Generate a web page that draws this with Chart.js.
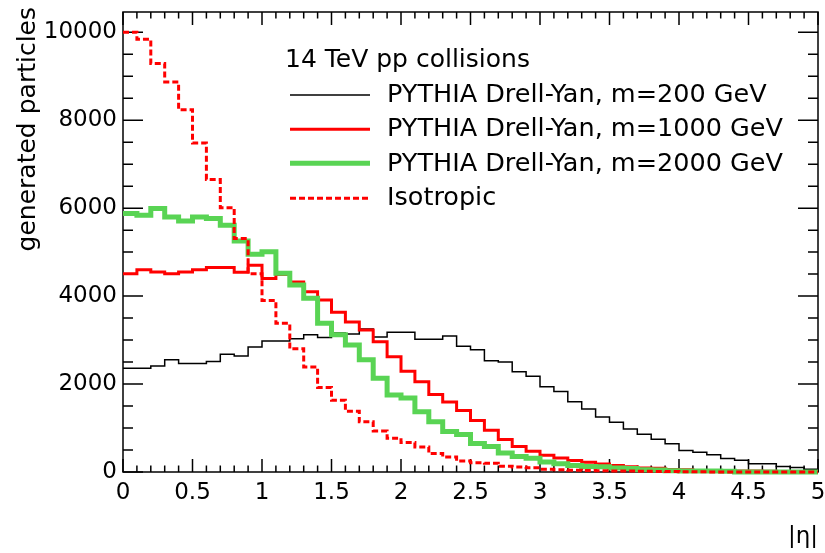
<!DOCTYPE html>
<html>
<head>
<meta charset="utf-8">
<script src="https://cdn.jsdelivr.net/npm/chart.js@4"></script>
<style>
html,body{margin:0;padding:0;background:#ffffff;}
#wrap{width:825px;height:553px;}
</style>
</head>
<body>
<div id="wrap"><canvas id="c" width="825" height="553"></canvas></div>
<script>
// ---- data (|eta| histograms, 50 bins of width 0.1 from 0 to 5) ----
const etaMin = 0;
const etaMax = 5;
const nBins = 50;

const dyM200 = [2360, 2360, 2410, 2550, 2470, 2470, 2510, 2680, 2640, 2840,
                2980, 2980, 3030, 3120, 3060, 3160, 3140, 3250, 3070, 3180,
                3180, 3020, 3020, 3090, 2860, 2780, 2530, 2500, 2280, 2180,
                1940, 1830, 1600, 1430, 1250, 1130, 975, 860, 745, 640,
                490, 450, 390, 305, 270, 185, 185, 125, 100, 60];

const dyM1000 = [4510, 4600, 4550, 4510, 4550, 4600, 4650, 4650, 4540, 4700,
                 4400, 4490, 4320, 4100, 3910, 3630, 3410, 3230, 2960, 2620,
                 2290, 2050, 1760, 1590, 1400, 1170, 950, 740, 580, 470,
                 380, 320, 260, 220, 180, 150, 120, 90, 85, 55,
                 50, 35, 30, 25, 20, 20, 15, 12, 10, 10];

const dyM2000 = [5880, 5840, 5990, 5800, 5710, 5800, 5765, 5610, 5250, 4950,
                 5010, 4520, 4250, 3950, 3380, 3120, 2890, 2550, 2130, 1750,
                 1680, 1370, 1140, 920, 850, 650, 580, 430, 350, 310,
                 230, 190, 150, 125, 120, 90, 80, 50, 45, 30,
                 25, 20, 20, 15, 0, 0, 0, 0, 0, 0];

const isotropic = [10000, 9840, 9290, 8870, 8240, 7480, 6650, 6010, 5310, 4510,
                   3900, 3380, 2800, 2390, 1920, 1630, 1380, 1140, 930, 770,
                   670, 570, 420, 340, 250, 210, 200, 130, 115, 95,
                   60, 50, 40, 35, 30, 25, 20, 15, 12, 10,
                   8, 5, 0, 0, 0, 0, 0, 0, 0, 0];

const xTickValues = [0, 0.5, 1, 1.5, 2, 2.5, 3, 3.5, 4, 4.5, 5];
const yTickValues = [0, 2000, 4000, 6000, 8000, 10000];
const yMax = 10460;

const yTitle = 'generated particles';
const xTitle = '|η|';
const legendHeader = '14 TeV pp collisions';
const seriesLabels = ['PYTHIA Drell-Yan, m=200 GeV', 'PYTHIA Drell-Yan, m=1000 GeV',
                      'PYTHIA Drell-Yan, m=2000 GeV', 'Isotropic'];

// ---- build step-histogram point lists ----
function histPoints(vals) {
  const w = (etaMax - etaMin) / nBins;
  const pts = vals.map((v, i) => ({x: etaMin + i * w, y: v}));
  pts.push({x: etaMax, y: vals[vals.length - 1]});
  return pts;
}

const FONT = '"DejaVu Sans", "Liberation Sans", sans-serif';

const datasets = [
  {label: seriesLabels[0], data: histPoints(dyM200), borderColor: '#000000', borderWidth: 1.5, order: 3},
  {label: seriesLabels[1], data: histPoints(dyM1000), borderColor: '#ff0000', borderWidth: 3, order: 2},
  {label: seriesLabels[2], data: histPoints(dyM2000), borderColor: 'rgb(89,212,84)', borderWidth: 5, order: 1},
  {label: seriesLabels[3], data: histPoints(isotropic), borderColor: '#ff0000', borderWidth: 3, borderDash: [6, 3], order: 0}
].map(d => Object.assign({
  stepped: 'before', pointRadius: 0, pointHoverRadius: 0, fill: false, tension: 0,
  borderCapStyle: 'butt', borderJoinStyle: 'miter', clip: 4
}, d));

// ---- frame with inward ticks (ROOT style) ----
const framePlugin = {
  id: 'frame',
  beforeDatasetsDraw(chart) {
    const {ctx, chartArea: a, scales: {x, y}} = chart;
    ctx.save();
    ctx.strokeStyle = '#000';
    ctx.lineWidth = 1.5;
    ctx.strokeRect(a.left, a.top, a.right - a.left, a.bottom - a.top);
    ctx.beginPath();
    for (let i = 0; i < xTickValues.length; i++) {
      const v = xTickValues[i];
      const px = x.getPixelForValue(v);
      ctx.moveTo(px, a.bottom); ctx.lineTo(px, a.bottom - 13);
      ctx.moveTo(px, a.top); ctx.lineTo(px, a.top + 13);
      if (i < xTickValues.length - 1) {
        const step = (xTickValues[i + 1] - v) / 5;
        for (let k = 1; k < 5; k++) {
          const mx = x.getPixelForValue(v + k * step);
          ctx.moveTo(mx, a.bottom); ctx.lineTo(mx, a.bottom - 6.5);
          ctx.moveTo(mx, a.top); ctx.lineTo(mx, a.top + 6.5);
        }
      }
    }
    const yStep = (yTickValues[1] - yTickValues[0]) / 4;
    for (let v = yTickValues[0]; v <= y.max; v += yStep) {
      const py = y.getPixelForValue(v);
      const len = yTickValues.includes(v) ? 20 : 10;
      ctx.moveTo(a.left, py); ctx.lineTo(a.left + len, py);
      ctx.moveTo(a.right, py); ctx.lineTo(a.right - len, py);
    }
    ctx.stroke();
    ctx.restore();
  }
};

// ---- legend and y title drawn as canvas text ----
const legendPlugin = {
  id: 'insideLegend',
  afterDatasetsDraw(chart) {
    const {ctx, chartArea: a} = chart;
    ctx.save();
    ctx.fillStyle = '#000';
    ctx.textBaseline = 'alphabetic';
    ctx.textAlign = 'left';
    ctx.font = '25px ' + FONT;
    ctx.fillText(legendHeader, 285, 66.5);
    ctx.font = '25.5px ' + FONT;
    const lineY = [95, 129.3, 163.3, 198.3];
    const baseY = [101.7, 136, 170.6, 205];
    chart.data.datasets.forEach((ds, i) => {
      ctx.beginPath();
      ctx.strokeStyle = ds.borderColor;
      ctx.lineWidth = ds.borderWidth;
      ctx.setLineDash(ds.borderDash || []);
      ctx.lineCap = 'butt';
      ctx.moveTo(290, lineY[i]);
      ctx.lineTo(370, lineY[i]);
      ctx.stroke();
      ctx.setLineDash([]);
      ctx.fillText(ds.label, 387, baseY[i]);
    });
    // y axis title, right-aligned at the top like ROOT
    ctx.translate(28, 7);
    ctx.rotate(-Math.PI / 2);
    ctx.font = '25px ' + FONT;
    ctx.textAlign = 'right';
    ctx.textBaseline = 'middle';
    ctx.fillText(yTitle, 0, 0);
    ctx.restore();
  }
};

new Chart(document.getElementById('c'), {
  type: 'line',
  data: {datasets},
  options: {
    responsive: false,
    animation: false,
    devicePixelRatio: 1,
    layout: {padding: {top: 12, right: 7, left: 0, bottom: 0}},
    plugins: {legend: {display: false}, tooltip: {enabled: false}},
    scales: {
      x: {
        type: 'linear', min: etaMin, max: etaMax,
        afterBuildTicks: s => { s.ticks = xTickValues.map(v => ({value: v})); },
        afterFit: s => { s.height = 81; s.paddingLeft = 0; s.paddingRight = 0; },
        grid: {display: false, drawTicks: false},
        border: {display: false},
        ticks: {padding: 7, color: '#000', font: {family: FONT, size: 23}, maxRotation: 0, autoSkip: false,
                callback: v => String(v)},
        title: {display: true, text: xTitle, align: 'end', color: '#000',
                font: {family: FONT, size: 23}, padding: {top: 0, bottom: 2}}
      },
      y: {
        type: 'linear', min: 0, max: yMax,
        afterBuildTicks: s => { s.ticks = yTickValues.map(v => ({value: v})); },
        afterFit: s => { s.width = 123; s.paddingTop = 0; s.paddingBottom = 0; },
        grid: {display: false, drawTicks: false},
        border: {display: false},
        ticks: {padding: 6, color: '#000', font: {family: FONT, size: 23}, autoSkip: false,
                callback: v => String(v)},
        title: {display: false}
      }
    }
  },
  plugins: [framePlugin, legendPlugin]
});
</script>
</body>
</html>
